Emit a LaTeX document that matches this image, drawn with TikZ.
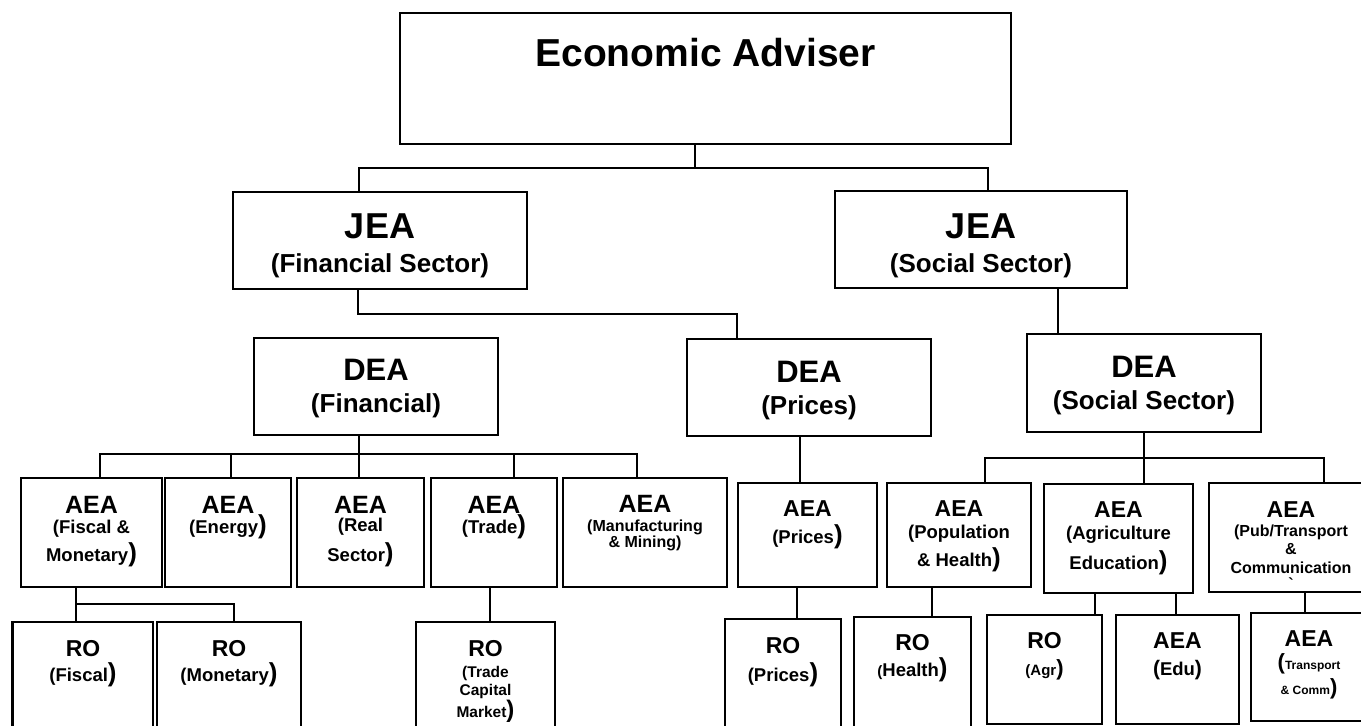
\documentclass[tikz,border=0pt]{standalone}
\usepackage{fontspec}
\setmainfont{Liberation Sans}
\usetikzlibrary{fit}
% font size given in pixels of the final drawing (1pt = 2px)
\newcommand\fz[1]{\fontsize{\dimexpr #1pt/2\relax}{\dimexpr #1pt*6/10\relax}\selectfont}
% enlarged parenthesis
\newcommand\bp[2][26]{{\fz{#1}#2}}
\tikzset{
  box/.style={draw, rectangle, inner sep=0pt, line width=1.2pt},
  wire/.style={line width=1pt},
  txt/.style={anchor=base, inner sep=0pt, font=\bfseries},
}
% \ubox{name}{x1}{y1}{x2}{y2}
\newcommand\ubox[5]{\node[box, fit={(#2,#3) (#4,#5)}] (#1) {};}
% \txtline{name}{x}{baseline y}{size px}{text}
\newcommand\txtline[5]{\node[txt] (#1) at (#2,#3) {\fz{#4}#5};}
\begin{document}
\begin{tikzpicture}[x=0.5pt,y=-0.5pt]
\useasboundingbox (0,0) rectangle (1361,725);
\clip (0,0) rectangle (1361,725);

% ---------- top ----------
\ubox{ea}{400}{13}{1011}{144}
\txtline{ea-1}{705.5}{66}{39}{Economic Adviser}

% ---------- joint level ----------
\ubox{jf}{233}{192}{527}{289}
\txtline{jf-1}{380}{238}{36}{JEA}
\txtline{jf-2}{380}{272}{26}{(Financial Sector)}
\ubox{js}{835}{191}{1127}{288}
\txtline{js-1}{981}{238}{36}{JEA}
\txtline{js-2}{981}{272}{26}{(Social Sector)}

% ---------- deputy level ----------
\ubox{df}{254}{338}{498}{435}
\txtline{df-1}{376}{380}{31}{DEA}
\txtline{df-2}{376}{412}{26}{(Financial)}
\ubox{dp}{687}{339}{931}{436}
\txtline{dp-1}{809}{382}{31}{DEA}
\txtline{dp-2}{809}{414}{26}{(Prices)}
\ubox{ds}{1027}{334}{1261}{432}
\txtline{ds-1}{1144}{377}{31}{DEA}
\txtline{ds-2}{1144}{409}{26}{(Social Sector)}

% ---------- assistant level, financial ----------
\ubox{afm}{21}{478}{162}{587}
\txtline{afm-1}{91.5}{513}{25}{AEA}
\txtline{afm-2}{91.5}{533.5}{18.5}{(Fiscal \&}
\txtline{afm-3}{91.5}{561.5}{18.5}{Monetary\bp)}
\ubox{aen}{165}{478}{291}{587}
\txtline{aen-1}{228}{513}{25}{AEA}
\txtline{aen-2}{228}{533.5}{18.5}{(Energy\bp)}
\ubox{are}{297}{478}{424}{587}
\txtline{are-1}{360.5}{513}{25}{AEA}
\txtline{are-2}{360.5}{531.5}{18.5}{(Real}
\txtline{are-3}{360.5}{561.5}{18.5}{Sector\bp)}
\ubox{atr}{431}{478}{557}{587}
\txtline{atr-1}{494}{513}{25}{AEA}
\txtline{atr-2}{494}{533.5}{18.5}{(Trade\bp)}
\ubox{amm}{563}{478}{727}{587}
\txtline{amm-1}{645}{512}{25}{AEA}
\txtline{amm-2}{645}{531}{16}{(Manufacturing}
\txtline{amm-3}{645}{547}{16}{\& Mining)}

% ---------- assistant level, prices and social ----------
\ubox{apr}{738}{483}{877}{587}
\txtline{apr-1}{807.5}{516}{23}{AEA}
\txtline{apr-2}{807.5}{543.5}{18.5}{(Prices\bp)}
\ubox{aph}{887}{483}{1031}{587}
\txtline{aph-1}{959}{516}{23}{AEA}
\txtline{aph-2}{959}{538.5}{18.5}{(Population}
\txtline{aph-3}{959}{566.5}{18.5}{\& Health\bp)}
\ubox{aae}{1044}{484}{1193}{593}
\txtline{aae-1}{1118.5}{517}{23}{AEA}
\txtline{aae-2}{1118.5}{539.5}{18.5}{(Agriculture}
\txtline{aae-3}{1118.5}{569.5}{18.5}{Education\bp)}
\ubox{apt}{1209}{483}{1385}{592}
\txtline{apt-1}{1291}{517}{23}{AEA}
\txtline{apt-2}{1291}{536.5}{16}{(Pub/Transport}
\txtline{apt-3}{1291}{554.5}{16}{\&}
\txtline{apt-4}{1291}{573.5}{16}{Communication}
\txtline{apt-5}{1291}{589}{16}{\textasciigrave}

% ---------- research officers ----------
\ubox{rf}{12.5}{622}{153}{745}
\txtline{rf-1}{83}{656}{23}{RO}
\txtline{rf-2}{83}{681.5}{18.5}{(Fiscal\bp)}
\ubox{rm}{157}{622}{301}{745}
\txtline{rm-1}{229}{656}{23}{RO}
\txtline{rm-2}{229}{681.5}{18.5}{(Monetary\bp)}
\ubox{rt}{416}{622}{555}{745}
\txtline{rt-1}{485.5}{656}{23}{RO}
\txtline{rt-2}{485.5}{677.5}{15.5}{(Trade}
\txtline{rt-3}{485.5}{695.5}{15.5}{Capital}
\txtline{rt-4}{485.5}{717.5}{15.5}{Market\bp[24])}
\ubox{rp}{725}{619}{841}{745}
\txtline{rp-1}{783}{653}{23}{RO}
\txtline{rp-2}{783}{681.5}{18.5}{(Prices\bp)}
\ubox{rh}{854}{617}{971}{745}
\txtline{rh-1}{912.5}{650}{23}{RO}
\txtline{rh-2}{912.5}{676.5}{18.5}{\bp[15](Health\bp)}
\ubox{ra}{987}{615}{1102}{724}
\txtline{ra-1}{1044.5}{648}{23}{RO}
\txtline{ra-2}{1044.5}{675.5}{15}{(Agr\bp[22])}
\ubox{ae}{1116}{615}{1239}{724}
\txtline{ae-1}{1177.5}{648}{23}{AEA}
\txtline{ae-2}{1177.5}{675.5}{18.5}{\bp[21](Edu\bp[21])}
\ubox{atc}{1251}{613}{1380}{721}
\txtline{atc-1}{1309}{646}{23}{AEA}
\txtline{atc-2}{1309}{669.5}{12}{\bp[22](Transport}
\txtline{atc-3}{1309}{694.5}{12}{\& Comm\bp[22])}

% ---------- connectors ----------
\coordinate (busEA) at (695,168);
\coordinate (busJF) at (358,314);
\coordinate (busDF) at (359,454);
\coordinate (busDS) at (1144,458);
\coordinate (busFM) at (76,604);

\draw[wire] (ea.south -| busEA) -- (busEA);
\draw[wire] (jf.north -| 359,0) -- (359,168) -- (988,168) -- (js.north -| 988,0);
\draw[wire] (jf.south -| busJF) -- (busJF) -- (737,314) -- (dp.north -| 737,0);
\draw[wire] (js.south -| 1058,0) -- (ds.north -| 1058,0);

\draw[wire] (df.south -| busDF) -- (are.north -| busDF);
\draw[wire] (afm.north -| 100,0) -- (100,454) -- (637,454) -- (amm.north -| 637,0);
\draw[wire] (aen.north -| 231,0) -- (231,454);
\draw[wire] (atr.north -| 514,0) -- (514,454);

\draw[wire] (dp.south -| 800,0) -- (apr.north -| 800,0);
\draw[wire] (ds.south -| busDS) -- (aae.north -| busDS);
\draw[wire] (aph.north -| 985,0) -- (985,458) -- (1324,458) -- (apt.north -| 1324,0);

\draw[wire] (afm.south -| busFM) -- (rf.north -| busFM);
\draw[wire] (busFM) -- (234,604) -- (rm.north -| 234,0);
\draw[wire] (atr.south -| 490,0) -- (rt.north -| 490,0);
\draw[wire] (apr.south -| 797,0) -- (rp.north -| 797,0);
\draw[wire] (aph.south -| 932,0) -- (rh.north -| 932,0);
\draw[wire] (aae.south -| 1095,0) -- (ra.north -| 1095,0);
\draw[wire] (aae.south -| 1175.5,0) -- (ae.north -| 1175.5,0);
\draw[wire] (apt.south -| 1305,0) -- (atc.north -| 1305,0);
\end{tikzpicture}
\end{document}
